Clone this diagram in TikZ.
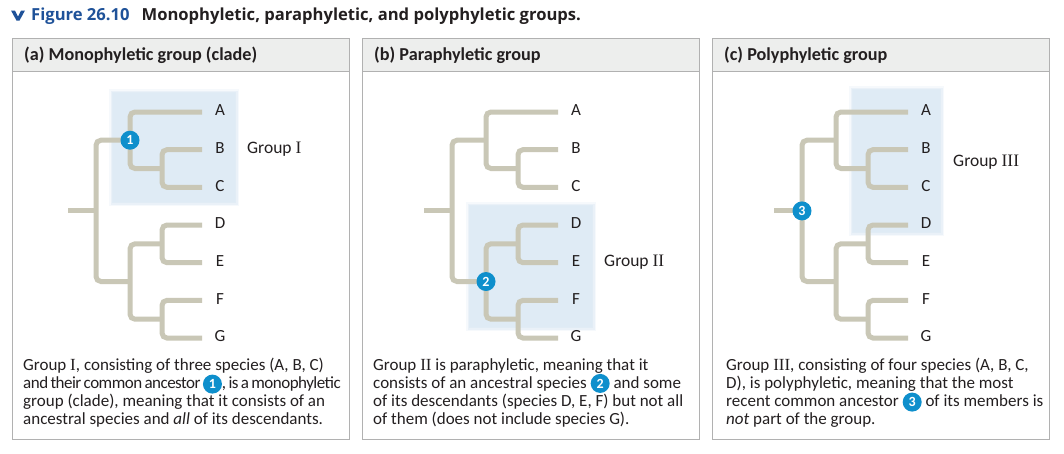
\documentclass[tikz,border=0pt]{standalone}
\usepackage{fontspec}
\setmainfont{Carlito}
\newfontfamily\headfont{Open Sans}
\newfontfamily\numfont{Liberation Serif}
\usetikzlibrary{positioning}
\definecolor{PhyloBranch}{HTML}{C9C7B6}
\definecolor{PhyloShade}{HTML}{DFEBF5}
\definecolor{PhyloBadge}{HTML}{0E8FCC}
\definecolor{PhyloFrame}{HTML}{B1B1B1}
\definecolor{PhyloHead}{HTML}{EDEEED}
\definecolor{PhyloTitle}{HTML}{1F5299}
\definecolor{PhyloInk}{HTML}{231F20}

\newcommand{\rn}[1]{{\numfont #1}}
\newcommand{\ancbadge}[1]{\tikz[baseline=(bd.base)]\node[circle,fill=PhyloBadge,text=white,inner sep=0pt,
  minimum size=19pt,font=\bfseries\fontsize{14}{14}\selectfont] (bd) {#1};}
\newcommand{\tightline}[1]{{\addfontfeature{LetterSpace=-3}\spaceskip=0.7\fontdimen2\font #1}}

% one tree, local coordinates of panel (a)
\newcommand{\phylotree}[1]{%
  \foreach \s [count=\k from 0] in {A,B,C,D,E,F,G} {
    \coordinate (#1\s) at (202,112+37.67*\k);
    \node[leaf] (#1\s lab) at (220,110.5+37.67*\k) {\s};
  }
  \coordinate (#1bc) at (162,168.5);
  \coordinate (#1abc) at (130,140.2);
  \coordinate (#1de) at (162,243.8);
  \coordinate (#1fg) at (162,319.2);
  \coordinate (#1defg) at (130,281.5);
  \coordinate (#1root) at (96,210.9);
  \coordinate (#1stub) at (68,210.9);
  \draw[branch] (#1stub) -- (#1root);
  \draw[branch] (#1abc) -| (#1root) |- (#1defg);
  \draw[branch] (#1A) -| (#1abc) |- (#1bc);
  \draw[branch] (#1B) -| (#1bc) |- (#1C);
  \draw[branch] (#1de) -| (#1defg) |- (#1fg);
  \draw[branch] (#1D) -| (#1de) |- (#1E);
  \draw[branch] (#1F) -| (#1fg) |- (#1G);
}
\newcommand{\shadebox}[2]{%
  \foreach \d/\o in {4/0.25,2.5/0.5,1.2/0.8}
    \fill[PhyloShade,opacity=\o] ([shift={(-\d,-\d)}]#1) rectangle ([shift={(\d,\d)}]#2);
  \fill[PhyloShade] (#1) rectangle (#2);
}

\begin{document}
\begin{tikzpicture}[x=1pt,y=-1pt,
    branch/.style={PhyloBranch,line width=5pt,rounded corners=5pt},
    leaf/.style={text=PhyloInk,font=\fontsize{17}{17}\selectfont,inner sep=0pt},
    grouplab/.style={text=PhyloInk,font=\fontsize{17.5}{17.5}\selectfont,inner sep=0pt,anchor=west},
    badge/.style={circle,fill=PhyloBadge,text=white,inner sep=0pt,minimum size=19pt,
      font=\bfseries\fontsize{14}{14}\selectfont},
    panel/.style={draw=PhyloFrame,line width=1pt},
    headbar/.style={draw=PhyloFrame,fill=PhyloHead,line width=1pt},
    headtext/.style={text=PhyloInk,font=\bfseries\fontsize{18.2}{18.2}\selectfont,anchor=west,inner sep=0pt},
    caption/.style={text=PhyloInk,font=\fontsize{17}{18}\selectfont,align=left,anchor=north west,inner sep=0pt}]
  \useasboundingbox[fill=white] (0,0) rectangle (1064,453);

  % title
  \fill[PhyloTitle] (11,10.5) -- (15,10.5) -- (18,16.5) -- (21,10.5) -- (25,10.5) -- (19.5,20.5) -- (16.5,20.5) -- cycle;
  \node[anchor=base west,inner sep=0pt,font=\headfont\bfseries\fontsize{16.6}{16.6}\selectfont] (title) at (31,20.5)
    {\textcolor{PhyloTitle}{Figure 26.10}\hspace{12pt}\textcolor{PhyloInk}{Monophyletic, paraphyletic, and polyphyletic groups.}};

  % panel frames
  \foreach \x in {12,362,712} {
    \draw[panel] (\x,38) rectangle (\x+337,439);
    \draw[headbar] (\x,38) rectangle (\x+337,71);
  }
  \node[headtext] (heada) at (24,55) {(a) Monophyletic group (clade)};
  \node[headtext] (headb) at (374,55) {(b) Paraphyletic group};
  \node[headtext] (headc) at (724,55) {(c) Polyphyletic group};

  % (a) monophyletic
  \shadebox{113,93}{235,202}
  \phylotree{a}
  \node[badge] (n1) at (aabc) {1};
  \node[grouplab] (ga) at (247,149) {Group \rn{I}};
  \node[caption] (capa) at (23,358) {Group \rn{I}, consisting of three species (A, B, C)\\
    \tightline{and their common ancestor \ancbadge{1}, is a monophyletic}\\
    group (clade), meaning that it consists of an\\
    ancestral species and \textit{all} of its descendants.};

  % (b) paraphyletic
  \shadebox{470,206}{592,327}
  \begin{scope}[xshift=356pt]
    \phylotree{b}
  \end{scope}
  \node[badge] (n2) at (bdefg) {2};
  \node[grouplab] (gb) at (604,262) {Group \rn{II}};
  \node[caption] (capb) at (373,358) {Group \rn{II} is paraphyletic, meaning that it\\
    consists of an ancestral species \ancbadge{2} and some\\
    of its descendants (species D, E, F) but not all\\
    of them (does not include species G).};

  % (c) polyphyletic
  \shadebox{853,90}{940,232}
  \begin{scope}[xshift=706pt]
    \phylotree{c}
  \end{scope}
  \node[badge] (n3) at (croot) {3};
  \node[grouplab] (gc) at (953,162) {Group \rn{III}};
  \node[caption] (capc) at (726,358) {Group \rn{III}, consisting of four species (A, B, C,\\
    D), is polyphyletic, meaning that the most\\
    recent common ancestor \ancbadge{3} of its members is\\
    \textit{not} part of the group.};
\end{tikzpicture}
\end{document}
